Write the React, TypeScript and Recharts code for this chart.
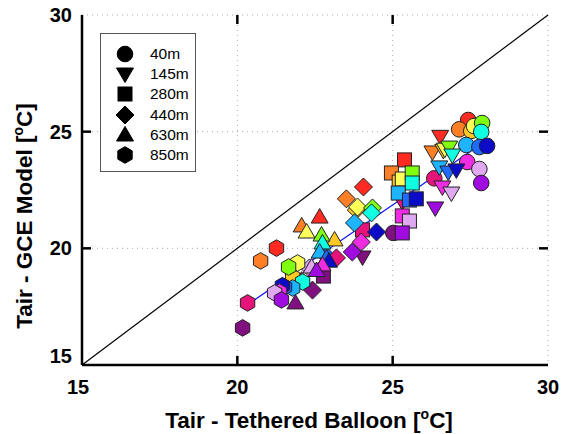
import React from "react";
import {
  ScatterChart,
  Scatter,
  XAxis,
  YAxis,
  CartesianGrid,
  ReferenceLine,
} from "recharts";

// colour of each sample, same order in every height array
const COLORS = [
  "#ff2a22", // red
  "#ff7f27", // orange
  "#ffc822", // gold
  "#ffff5a", // yellow
  "#80ff10", // green
  "#10ffe0", // cyan
  "#1fb4ff", // sky blue
  "#1f6aff", // blue
  "#0c0cc8", // dark blue
  "#e6147a", // crimson
  "#f02ce2", // magenta
  "#e0a8f0", // lilac
  "#a00ce0", // violet
  "#80107f", // purple
];

const X_40 = [27.43, 27.14, 27.53, 27.62, 27.88, 27.85, 27.37, 27.79, 28.04, 26.34, 27.4, 27.79, 27.85, 25.02];
const Y_40 = [25.5, 25.1, 25.03, 25.24, 25.37, 24.99, 24.43, 24.34, 24.39, 23.0, 23.7, 23.4, 22.8, 20.66];

const X_145 = [26.53, 26.28, 26.63, 26.68, 26.82, 26.92, 26.5, 26.79, 27.05, 25.31, 26.6, 26.89, 26.37, 24.03];
const Y_145 = [24.8, 24.13, 24.2, 24.25, 24.34, 24.0, 23.49, 23.27, 23.36, 21.99, 22.63, 22.37, 21.73, 19.63];

const X_280 = [25.38, 24.96, 25.21, 25.31, 25.63, 25.63, 25.18, 25.54, 25.76, 24.03, 25.31, 25.54, 25.31, 22.77];
const Y_280 = [23.79, 23.23, 22.84, 22.97, 23.23, 22.8, 22.37, 22.07, 22.12, 20.79, 21.39, 21.17, 20.66, 18.81];

const X_440 = [24.06, 23.51, 23.83, 23.87, 24.35, 24.32, 23.77, 22.87, 24.48, 23.19, 23.99, 22.32, 23.7, 22.42];
const Y_440 = [22.63, 22.12, 21.64, 21.77, 21.73, 21.52, 21.09, 19.67, 20.7, 19.59, 20.27, 19.16, 19.84, 18.21];

const X_630 = [22.65, 22.07, 23.13, 22.23, 22.71, 22.74, 22.65, 22.87, 22.95, 22.07, 22.74, 22.39, 22.55, 21.87];
const Y_630 = [21.34, 20.96, 20.36, 20.7, 20.57, 20.23, 19.84, 19.59, 19.45, 18.64, 19.29, 19.2, 19.05, 17.66];

const X_850 = [21.26, 20.75, 21.78, 21.94, 21.65, 22.1, 21.78, 21.52, 21.45, 20.33, 21.36, 21.2, 21.42, 20.17];
const Y_850 = [20.01, 19.46, 18.77, 19.37, 19.2, 18.56, 18.3, 18.34, 18.4, 17.66, 18.13, 18.09, 17.79, 16.59];

const HEIGHTS = ["40m", "145m", "280m", "440m", "630m", "850m"];
const TICKS = [15, 20, 25, 30];
const INNER_TICKS = [20, 25];

// fitted line end points and 1:1 line
const FIT = [
  { x: 20.17, y: 17.44 },
  { x: 28.04, y: 24.64 },
];
const ONE_TO_ONE = [
  { x: 15, y: 15 },
  { x: 30, y: 30 },
];

const build = (xs: number[], ys: number[]) =>
  xs.map((x, i) => ({ x, y: ys[i], color: COLORS[i] }));

const FONT = "'Liberation Sans', Arial, sans-serif";

function marker(kind: string, cx: number, cy: number, fill: string, stroke: string) {
  const sw = 1;
  switch (kind) {
    case "circle":
      return <circle cx={cx} cy={cy} r={7.8} fill={fill} stroke={stroke} strokeWidth={sw} />;
    case "down":
      return (
        <polygon
          points={`${cx - 8.5},${cy - 6} ${cx + 8.5},${cy - 6} ${cx},${cy + 8.5}`}
          fill={fill}
          stroke={stroke}
          strokeWidth={sw}
        />
      );
    case "square":
      return <rect x={cx - 7} y={cy - 7} width={14} height={14} fill={fill} stroke={stroke} strokeWidth={sw} />;
    case "diamond":
      return (
        <polygon
          points={`${cx},${cy - 9} ${cx + 9},${cy} ${cx},${cy + 9} ${cx - 9},${cy}`}
          fill={fill}
          stroke={stroke}
          strokeWidth={sw}
        />
      );
    case "up":
      return (
        <polygon
          points={`${cx - 8.5},${cy + 6} ${cx + 8.5},${cy + 6} ${cx},${cy - 8.5}`}
          fill={fill}
          stroke={stroke}
          strokeWidth={sw}
        />
      );
    default: {
      const r = 8.3;
      const pts = [90, 30, -30, -90, -150, 150]
        .map((a) => {
          const t = (a * Math.PI) / 180;
          return `${cx + r * Math.cos(t)},${cy - r * Math.sin(t)}`;
        })
        .join(" ");
      return <polygon points={pts} fill={fill} stroke={stroke} strokeWidth={sw} />;
    }
  }
}

const SERIES = [
  { name: HEIGHTS[0], kind: "circle", data: build(X_40, Y_40) },
  { name: HEIGHTS[1], kind: "down", data: build(X_145, Y_145) },
  { name: HEIGHTS[2], kind: "square", data: build(X_280, Y_280) },
  { name: HEIGHTS[3], kind: "diamond", data: build(X_440, Y_440) },
  { name: HEIGHTS[4], kind: "up", data: build(X_630, Y_630) },
  { name: HEIGHTS[5], kind: "hex", data: build(X_850, Y_850) },
];

const BottomTick = (props: any) => {
  const { x, y, payload } = props;
  const shift = payload.value === 15 ? -4 : 0;
  return (
    <text x={x + shift} y={y} dy={17} textAnchor="middle" fontFamily={FONT} fontWeight="bold" fontSize={20} fill="#000">
      {payload.value}
    </text>
  );
};

const LeftTick = (props: any) => {
  const { x, y, payload } = props;
  const dy = payload.value === 15 ? -2 : 7;
  return (
    <text x={x} y={y} dy={dy} textAnchor="end" fontFamily={FONT} fontWeight="bold" fontSize={20} fill="#000">
      {payload.value}
    </text>
  );
};

// inward tick marks at both ends of a reference line
const TickPair = (props: any) => {
  const { x1, y1, x2, y2 } = props;
  const L = 9;
  if (x1 === x2) {
    const top = Math.min(y1, y2);
    const bot = Math.max(y1, y2);
    return (
      <g stroke="#000" strokeWidth={2.5}>
        <line x1={x1} x2={x1} y1={top} y2={top + L} />
        <line x1={x1} x2={x1} y1={bot} y2={bot - L} />
      </g>
    );
  }
  const l = Math.min(x1, x2);
  const r = Math.max(x1, x2);
  return (
    <g stroke="#000" strokeWidth={2.5}>
      <line x1={l} x2={l + L} y1={y1} y2={y1} />
      <line x1={r} x2={r - L} y1={y1} y2={y1} />
    </g>
  );
};

const XLabel = () => (
  <text x={309} y={428} textAnchor="middle" fontFamily={FONT} fontWeight="bold" fontSize={22.5} fill="#000">
    Tair - Tethered Balloon [
    <tspan dy={-9} fontSize={14}>o</tspan>
    <tspan dy={9}>C]</tspan>
  </text>
);

const YLabel = () => (
  <text
    x={0}
    y={0}
    transform="translate(32,216) rotate(-90)"
    textAnchor="middle"
    fontFamily={FONT}
    fontWeight="bold"
    fontSize={22.5}
    fill="#000"
  >
    Tair - GCE Model [
    <tspan dy={-9} fontSize={14}>o</tspan>
    <tspan dy={9}>C]</tspan>
  </text>
);

function LegendBox() {
  return (
    <div
      style={{
        position: "absolute",
        left: 100,
        top: 33,
        width: 96,
        height: 139,
        border: "1px solid #555",
        background: "#fff",
        boxSizing: "border-box",
      }}
    >
      {SERIES.map((s, i) => (
        <div
          key={s.name}
          style={{ position: "absolute", left: 14, top: 10 + i * 20.2, height: 20, display: "flex", alignItems: "center" }}
        >
          <svg width={20} height={20}>
            {marker(s.kind, 10, 10, "#000", "#000")}
          </svg>
          <span style={{ marginLeft: 15, fontFamily: FONT, fontSize: 15.5, color: "#000" }}>{s.name}</span>
        </div>
      ))}
    </div>
  );
}

const AXIS_LINE = { stroke: "#000", strokeWidth: 2.5 };

export default function App() {
  return (
    <div style={{ position: "fixed", left: 0, top: 0, width: 561, height: 434, background: "#fff" }}>
      <ScatterChart width={561} height={434} margin={{ top: 15, right: 13, bottom: 0, left: 0 }}>
        <CartesianGrid stroke="#aaa" strokeDasharray="1 4" />
        <XAxis
          type="number"
          dataKey="x"
          domain={[15, 30]}
          ticks={TICKS}
          height={69}
          tickSize={0}
          tickMargin={12}
          tickLine={false}
          axisLine={AXIS_LINE}
          tick={<BottomTick />}
          label={<XLabel />}
        />
        <XAxis
          xAxisId="top"
          orientation="top"
          type="number"
          domain={[15, 30]}
          ticks={TICKS}
          height={0}
          tickLine={false}
          axisLine={AXIS_LINE}
          tick={false}
        />
        <YAxis
          type="number"
          dataKey="y"
          domain={[15, 30]}
          ticks={TICKS}
          width={82}
          tickSize={0}
          tickMargin={10}
          tickLine={false}
          axisLine={AXIS_LINE}
          tick={<LeftTick />}
          label={<YLabel />}
        />
        <YAxis
          yAxisId="right"
          orientation="right"
          type="number"
          domain={[15, 30]}
          ticks={TICKS}
          width={0}
          tickLine={false}
          axisLine={AXIS_LINE}
          tick={false}
        />
        {INNER_TICKS.map((v) => (
          <ReferenceLine key={`tx${v}`} x={v} shape={(p: any) => <TickPair {...p} />} />
        ))}
        {INNER_TICKS.map((v) => (
          <ReferenceLine key={`ty${v}`} y={v} shape={(p: any) => <TickPair {...p} />} />
        ))}
        <ReferenceLine segment={ONE_TO_ONE} stroke="#000" strokeWidth={1.2} />
        {SERIES.map((s) => (
          <Scatter
            key={s.name}
            name={s.name}
            data={s.data}
            isAnimationActive={false}
            shape={(p: any) => marker(s.kind, p.cx, p.cy, p.payload.color, "#222")}
          />
        ))}
        <ReferenceLine segment={FIT} stroke="#1010ff" strokeWidth={1.2} />
      </ScatterChart>
      <LegendBox />
    </div>
  );
}
